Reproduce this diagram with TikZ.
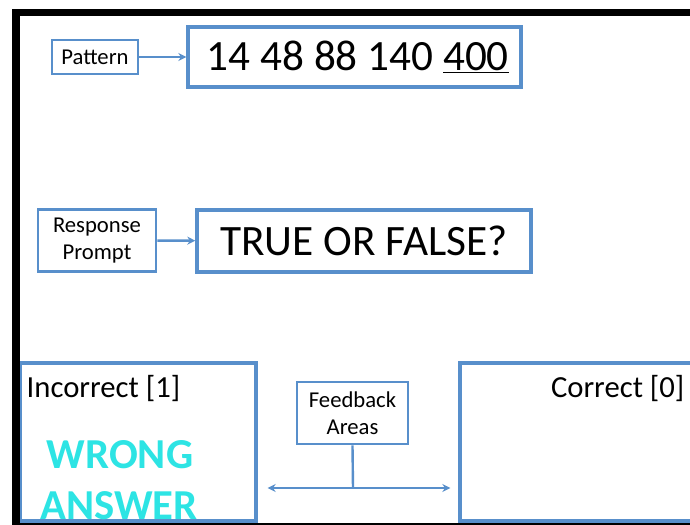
\documentclass[tikz,border=0pt]{standalone}
\usepackage{fontspec}
\setmainfont{Carlito}
\usetikzlibrary{calc,arrows.meta}
\definecolor{boxblue}{RGB}{88,143,203}
\definecolor{wrongcyan}{RGB}{45,228,228}
\tikzset{
  px/.style={x=0.75pt,y=-0.75pt},
  smallbox/.style={draw=boxblue,line width=2.2pt,fill=white,inner sep=0pt,align=center,font=\fontsize{17}{20.5}\selectfont},
  bigbox/.style={draw=boxblue,line width=2.5pt,inner sep=0pt},
  link/.style={draw=boxblue,line width=1.8pt},
  tip/.style={-{Stealth[length=6pt,width=6pt]}},
  tips/.style={{Stealth[length=6pt,width=6pt]}-{Stealth[length=6pt,width=6pt]}},
}
\begin{document}
\begin{tikzpicture}[px]
\useasboundingbox (0,0) rectangle (690,525);
\fill[white] (0,0) rectangle (690,525);
% pattern row
\node[smallbox,minimum width=64.5pt,minimum height=25.5pt] (pat) at (95,57) {Pattern};
\node[bigbox,minimum width=249.75pt,minimum height=45pt,font=\fontsize{32.4}{38}\selectfont] (seq) at (354.5,57) {\hspace{5pt}14 48 88 140 \underline{400}};
\draw[link,tip] (pat) -- (seq);
% response row
\node[smallbox,minimum width=88.5pt,minimum height=46.5pt] (resp) at (97,240.5) {Response\\Prompt};
\node[bigbox,minimum width=250.5pt,minimum height=46.5pt,font=\fontsize{32.5}{38}\selectfont] (tf) at (364,241) {TRUE OR FALSE?};
\draw[link,tip] (resp) -- (tf);
% feedback areas
\node[bigbox,minimum width=177pt,minimum height=118.5pt] (inc) at (138,442) {};
\node[bigbox,minimum width=187.5pt,minimum height=118.5pt] (cor) at (585,442) {};
\node[anchor=west,font=\fontsize{23}{27}\selectfont] (inctxt) at (22,389) {Incorrect [1]};
\node[anchor=east,font=\fontsize{23}{27}\selectfont] (cortxt) at (689,389) {Correct [0]};
\begin{scope}
\clip (22,365) rectangle (254,520);
\node[font=\fontsize{32}{36}\bfseries\selectfont,text=wrongcyan] (wrong) at (120,455) {WRONG};
\node[font=\fontsize{32}{36}\bfseries\selectfont,text=wrongcyan] (answer) at (119,506) {ANSWER};
\end{scope}
\node[smallbox,minimum width=83.25pt,minimum height=46.5pt] (fb) at (352.5,413) {Feedback\\Areas};
\coordinate (j) at (353,488);
\draw[link] (fb.south) -- (j);
\draw[link,tips] ($(inc.east |- j)+(10,0)$) -- ($(cor.west |- j)+(-8,0)$);
% black frame
\fill[black] (12,9) rectangle (690,16);
\fill[black] (12,9) rectangle (20,525);
\fill[black] (12,523) rectangle (690,525);
\end{tikzpicture}
\end{document}
